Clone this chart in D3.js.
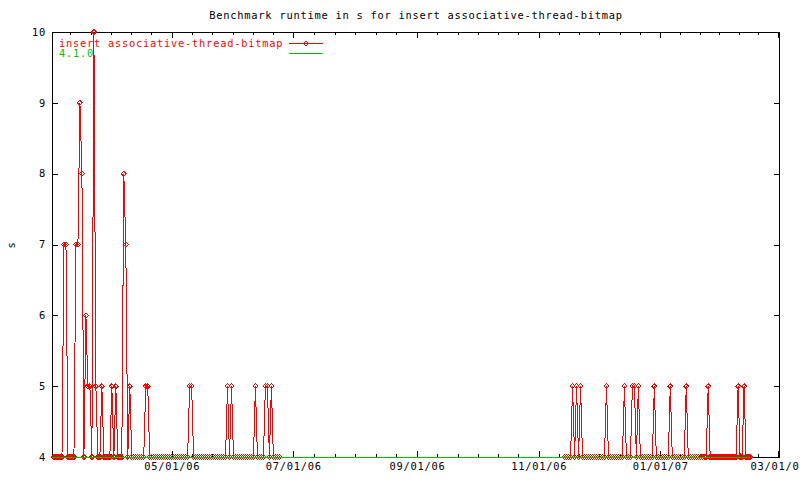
<!DOCTYPE html>
<html><head><meta charset="utf-8">
<script src="https://cdn.jsdelivr.net/npm/d3@7"></script>
<style>
body{margin:0;background:#fff}
svg text{font-family:"DejaVu Sans Mono","Liberation Mono",monospace;font-size:10.4px;letter-spacing:0.75px}
</style>
</head><body><svg id="c" width="800" height="480"></svg>
<script>
const titleText = "Benchmark runtime in s for insert associative-thread-bitmap";
const seriesNames = ["insert associative-thread-bitmap", "4.1.0"];
const yLabelText = "s";
const yTicks = [4, 5, 6, 7, 8, 9, 10];
const xTickDates = ["2006-05-01", "2006-07-01", "2006-09-01", "2006-11-01", "2007-01-01", "2007-03-01"];
const xTickLabels = ["05/01/06", "07/01/06", "09/01/06", "11/01/06", "01/01/07", "03/01/07"];
const xDomain = ["2006-03-02", "2007-03-02"];
const yDomain = [4, 10];

// red series: daily runs, two stretches
const seg1Start = "2006-03-03";
const seg1Values = [
  4,4,4,4,4,7,7,4,4,4,
  4,7,7,9,8,4,6,5,5,4,
  10,5,4,4,5,4,4,4,4,5,
  4,5,4,4,4,8,7,4,5,4,
  4,4,4,4,4,4,5,5,4,4,
  4,4,4,4,4,4,4,4,4,4,
  4,4,4,4,4,4,4,4,5,5,
  4,4,4,4,4,4,4,4,4,4,
  4,4,4,4,4,4,4,5,4,5,
  4,4,4,4,4,4,4,4,4,4,
  4,5,4,4,4,4,5,5,4,5,
  4,4,4,4
];
const seg2Start = "2006-11-14";
const seg2Values = [
  4,4,4,4,5,4,5,4,5,4,
  4,4,4,4,4,4,4,4,4,4,
  4,5,4,4,4,4,4,4,4,4,
  5,4,4,4,5,5,4,5,4,4,
  4,4,4,4,4,5,4,4,4,4,
  4,4,4,5,4,4,4,4,4,4,
  4,5,4,4,4,4,4,4,4,4,
  4,4,5,4,4,4,4,4,4,4,
  4,4,4,4,4,4,4,5,4,4,
  5,4,4,4
];
// green series (version marker)
const greenDates = ["2006-03-02", "2007-02-15"];
const greenValues = [4, 4];

const RED = "#ff0000", GREEN = "#00c000";
const parse = d3.utcParse("%Y-%m-%d");
const svg = d3.select("#c");
const L = 52, R = 780, T = 32, B = 457;
const x = d3.scaleUtc().domain(xDomain.map(parse)).range([L, R]);
const y = d3.scaleLinear().domain(yDomain).range([B, T]);

const redData = [];
seg1Values.forEach((v, i) => redData.push({d: d3.utcDay.offset(parse(seg1Start), i), v}));
seg2Values.forEach((v, i) => redData.push({d: d3.utcDay.offset(parse(seg2Start), i), v}));
const greenData = greenDates.map((s, i) => ({d: parse(s), v: greenValues[i]}));

// ticks
const majors = xTickDates.map(parse);
const ext = [d3.utcMonth.offset(majors[0], -2), ...majors, d3.utcMonth.offset(majors[majors.length-1], 2)];
const minors = [];
const [d0, d1] = x.domain();
for (let i = 0; i < ext.length - 1; i++) {
  const a = +ext[i], b = +ext[i+1];
  for (let k = 1; k < 6; k++) {
    const t = new Date(a + (b - a) * k / 6);
    if (t > d0 && t < d1) minors.push(t);
  }
}

function styleAxis(g) {
  g.select(".domain").remove();
  g.selectAll("line").attr("stroke", "#000").attr("shape-rendering", "crispEdges");
  g.selectAll("text").attr("font-family", null).attr("font-size", null).attr("fill", "#000");
  g.attr("font-family", null).attr("font-size", null);
}

svg.append("g").attr("transform", `translate(0,${B})`)
  .call(d3.axisBottom(x).tickValues(majors).tickFormat((d, i) => xTickLabels[i]).tickSize(-6).tickPadding(6).tickSizeOuter(0))
  .call(styleAxis);
svg.append("g").attr("transform", `translate(0,${B})`)
  .call(d3.axisBottom(x).tickValues(minors).tickFormat("").tickSize(-3).tickSizeOuter(0))
  .call(styleAxis);
svg.append("g").attr("transform", `translate(0,${T})`)
  .call(d3.axisTop(x).tickValues(majors).tickFormat("").tickSize(-6).tickSizeOuter(0))
  .call(styleAxis);
svg.append("g").attr("transform", `translate(0,${T})`)
  .call(d3.axisTop(x).tickValues(minors).tickFormat("").tickSize(-3).tickSizeOuter(0))
  .call(styleAxis);
svg.append("g").attr("transform", `translate(${L},0)`)
  .call(d3.axisLeft(y).tickValues(yTicks).tickFormat(d3.format("d")).tickSize(-6).tickPadding(6).tickSizeOuter(0))
  .call(styleAxis);
svg.append("g").attr("transform", `translate(${R},0)`)
  .call(d3.axisRight(y).tickValues(yTicks).tickFormat("").tickSize(-6).tickSizeOuter(0))
  .call(styleAxis);

// frame
svg.append("rect").attr("x", L + 0.5).attr("y", T + 0.5).attr("width", R - L - 1).attr("height", B - T)
  .attr("fill", "none").attr("stroke", "#000").attr("shape-rendering", "crispEdges");

// title & y label
svg.append("text").attr("x", (L + R) / 2).attr("y", 19).attr("text-anchor", "middle").text(titleText);
svg.append("text").attr("transform", "translate(15,245) rotate(-90)").attr("text-anchor", "middle").text(yLabelText);

// red series
const line = d3.line().x(d => x(d.d)).y(d => y(d.v));
svg.append("path").datum(redData).attr("d", line).attr("fill", "none").attr("stroke", RED)
  .attr("stroke-width", 1).attr("shape-rendering", "crispEdges");
const diamond = "M0,-2.5L2.5,0L0,2.5L-2.5,0Z";
svg.append("g").selectAll("path").data(redData).join("path")
  .attr("transform", d => `translate(${x(d.d)},${y(d.v)})`).attr("d", diamond)
  .attr("fill", "none").attr("stroke", RED).attr("shape-rendering", "crispEdges");

// green series
svg.append("path").datum(greenData).attr("d", line).attr("fill", "none").attr("stroke", GREEN)
  .attr("stroke-width", 1).attr("shape-rendering", "crispEdges");

// legend
const lg = svg.append("g");
lg.append("text").attr("x", 59).attr("y", 46.5).attr("fill", RED).text(seriesNames[0]);
lg.append("line").attr("x1", 289).attr("x2", 323).attr("y1", 43.5).attr("y2", 43.5).attr("stroke", RED).attr("shape-rendering", "crispEdges");
lg.append("path").attr("transform", "translate(306,43.5)").attr("d", diamond).attr("fill", "none").attr("stroke", RED).attr("shape-rendering", "crispEdges");
lg.append("text").attr("x", 59).attr("y", 56.5).attr("fill", GREEN).text(seriesNames[1]);
lg.append("line").attr("x1", 289).attr("x2", 323).attr("y1", 53.5).attr("y2", 53.5).attr("stroke", GREEN).attr("shape-rendering", "crispEdges");
</script>
</body></html>
